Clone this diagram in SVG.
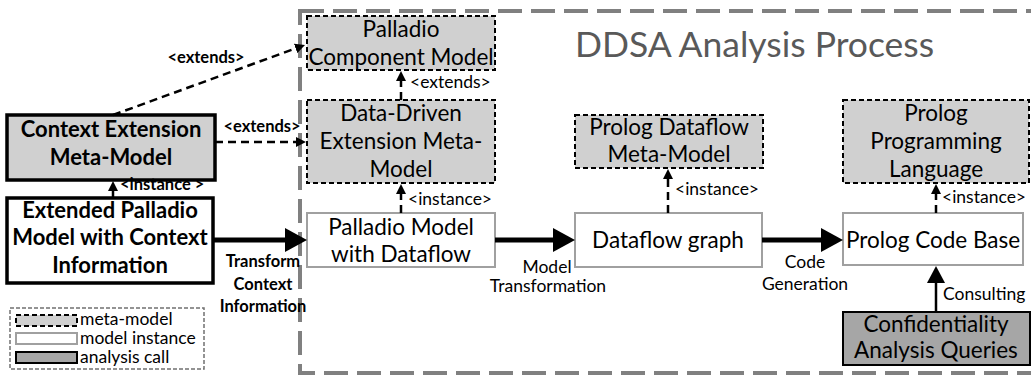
<svg xmlns="http://www.w3.org/2000/svg" width="1031" height="377" viewBox="0 0 1031 377">
<defs>
<style>
text{font-family:Lato,"Open Sans","Liberation Sans",sans-serif;fill:#000}
.bx{font-size:22.5px;text-anchor:middle}
.bb{font-size:22px;font-weight:bold;text-anchor:middle}
.lb{font-size:17.5px}
.lbb{font-size:16.5px;font-weight:bold}
.mid{text-anchor:middle}
.meta{fill:#d0d0d0;stroke:#000;stroke-width:2;stroke-dasharray:5 3}
.inst{fill:#fff;stroke:#a0a0a0;stroke-width:2}
.call{fill:#a6a6a6;stroke:#000;stroke-width:2}
.thickbox{stroke:#000;stroke-width:3.5}
.dash{stroke:#000;stroke-width:2.5;stroke-dasharray:8 5;fill:none}
.thick{stroke:#000;stroke-width:5;fill:none}
.solid{stroke:#000;stroke-width:2.5;fill:none}
</style>
<marker id="ah" markerUnits="userSpaceOnUse" markerWidth="10" markerHeight="10" refX="0" refY="5" orient="auto"><path d="M0,0L10,5L0,10z" fill="#000"/></marker>
<marker id="big" markerUnits="userSpaceOnUse" markerWidth="22" markerHeight="24" refX="0" refY="12" orient="auto"><path d="M0,0L22,12L0,24z" fill="#000"/></marker>
<marker id="mid" markerUnits="userSpaceOnUse" markerWidth="17" markerHeight="18" refX="0" refY="9" orient="auto"><path d="M0,0L17,9L0,18z" fill="#000"/></marker>
</defs>
<rect width="1031" height="377" fill="#fff"/>
<g id="process">
<rect x="300" y="11" width="800" height="362" fill="none" stroke="#808080" stroke-width="4" stroke-dasharray="24 9"/>
<text x="575" y="57" style="font-size:35.5px;fill:#595959">DDSA Analysis Process</text>
</g>
<g id="pcm"><rect class="meta" x="307" y="16" width="188" height="54"/><text class="bx" x="401" y="37">Palladio</text><text class="bx" x="401" y="65">Component Model</text></g>
<g id="ddmm"><rect class="meta" x="307" y="100" width="188" height="83"/><text class="bx" x="401" y="121">Data-Driven</text><text class="bx" x="401" y="149">Extension Meta-</text><text class="bx" x="401" y="177">Model</text></g>
<g id="pdmm"><rect class="meta" x="575" y="115" width="188" height="53"/><text class="bx" x="669" y="135">Prolog Dataflow</text><text class="bx" x="669" y="162">Meta-Model</text></g>
<g id="ppl"><rect class="meta" x="843" y="100" width="186" height="83"/><text class="bx" x="936" y="121">Prolog</text><text class="bx" x="936" y="149">Programming</text><text class="bx" x="936" y="177">Language</text></g>
<g id="cemm"><rect class="thickbox" fill="#d0d0d0" x="7" y="115" width="208" height="65"/><text class="bb" x="111" y="137">Context Extension</text><text class="bb" x="111" y="165">Meta-Model</text></g>
<g id="epm"><rect class="thickbox" fill="#fff" x="7" y="198" width="206" height="85"/><text class="bb" x="110" y="218">Extended Palladio</text><text class="bb" x="110" y="245">Model with Context</text><text class="bb" x="110" y="273">Information</text></g>
<g id="pmd"><rect class="inst" x="307" y="213" width="188" height="54"/><text class="bx" x="401" y="235">Palladio Model</text><text class="bx" x="401" y="262">with Dataflow</text></g>
<g id="dg"><rect class="inst" x="575" y="213" width="187" height="54"/><text class="bx" x="668" y="248">Dataflow graph</text></g>
<g id="pcb"><rect class="inst" x="843" y="213" width="180" height="52"/><text class="bx" x="933" y="248">Prolog Code Base</text></g>
<g id="caq"><rect class="call" x="843" y="312" width="187" height="53"/><text class="bx" x="936" y="332">Confidentiality</text><text class="bx" x="936" y="358">Analysis Queries</text></g>
<g id="legend">
<rect x="10" y="308" width="194" height="61" fill="none" stroke="#707070" stroke-width="1.5" stroke-dasharray="4 2"/>
<rect class="meta" x="16" y="315" width="61" height="11"/><text class="lb" x="80" y="325">meta-model</text>
<rect class="inst" x="16" y="333" width="61" height="11"/><text class="lb" x="80" y="344">model instance</text>
<rect class="call" x="16" y="352" width="61" height="11"/><text class="lb" x="80" y="363">analysis call</text>
</g>
<g id="connectors">
<line class="dash" x1="113" y1="115" x2="295.6" y2="48.4" marker-end="url(#ah)"/>
<text class="lbb mid" x="206" y="63">&lt;extends&gt;</text>
<line class="dash" x1="215" y1="142" x2="296" y2="142" marker-end="url(#ah)"/>
<text class="lbb mid" x="262" y="132">&lt;extends&gt;</text>
<line class="dash" x1="113" y1="197" x2="113" y2="191" marker-end="url(#ah)"/>
<text class="lbb" x="120" y="190">&lt;instance &gt;</text>
<line class="dash" x1="401" y1="100" x2="401" y2="81" marker-end="url(#ah)"/>
<text class="lb" x="410" y="88">&lt;extends&gt;</text>
<line class="dash" x1="401" y1="213" x2="401" y2="194" marker-end="url(#ah)"/>
<text class="lb" x="408" y="205">&lt;instance&gt;</text>
<line class="thick" x1="213" y1="240" x2="285" y2="240" marker-end="url(#big)"/>
<text class="lbb mid" x="263" y="267">Transform</text><text class="lbb mid" x="263" y="290">Context</text><text class="lbb mid" x="263" y="312">Information</text>
<line class="thick" x1="495" y1="240" x2="553" y2="240" marker-end="url(#big)"/>
<text class="lb mid" x="547" y="273">Model</text><text class="lb mid" x="548" y="292">Transformation</text>
<line class="thick" x1="762" y1="240" x2="821" y2="240" marker-end="url(#big)"/>
<text class="lb mid" x="805" y="268">Code</text><text class="lb mid" x="805" y="290">Generation</text>
<line class="dash" x1="668" y1="213" x2="668" y2="179" marker-end="url(#ah)"/>
<text class="lb" x="675" y="195">&lt;instance&gt;</text>
<line class="dash" x1="936" y1="213" x2="936" y2="194" marker-end="url(#ah)"/>
<text class="lb" x="942" y="203">&lt;instance&gt;</text>
<line class="solid" x1="936" y1="312" x2="936" y2="283" marker-end="url(#mid)"/>
<text class="lb" x="943" y="300">Consulting</text>
</g>
</svg>
